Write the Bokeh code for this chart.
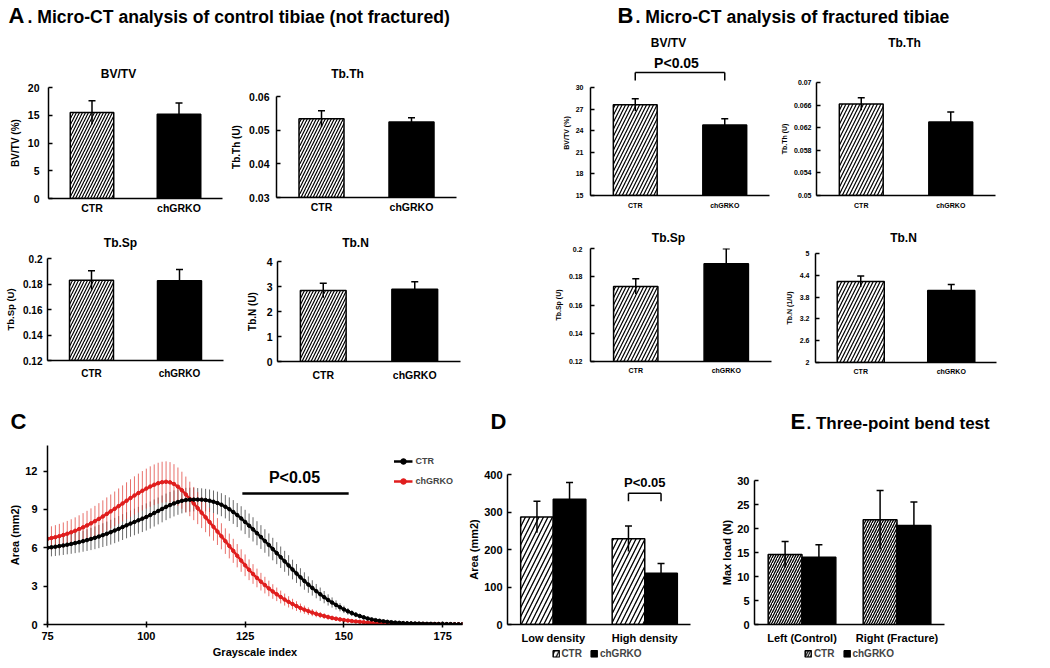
from bokeh.plotting import figure
from bokeh.models import (Range1d, FixedTicker, Label, Whisker, TeeHead,
                          ColumnDataSource, Legend, LegendItem)
from bokeh.layouts import column, row
from bokeh.embed import file_html
from bokeh.resources import INLINE

FONT = "Liberation Sans"

# ---------------- data ----------------
groups = ["CTR", "chGRKO"]

# A. control tibiae (not fractured)
a_bvtv = [15.5, 15.2]
a_bvtv_err = [2.1, 2.0]
a_tbth = [0.0534, 0.0524]
a_tbth_err = [0.0024, 0.0013]
a_tbsp = [0.1830, 0.1826]
a_tbsp_err = [0.0074, 0.0088]
a_tbn = [2.84, 2.89]
a_tbn_err = [0.29, 0.30]

# B. fractured tibiae
b_bvtv = [27.6, 24.8]
b_bvtv_err = [0.85, 0.85]
b_tbth = [0.0662, 0.0630]
b_tbth_err = [0.0011, 0.0018]
b_tbsp = [0.1731, 0.1892]
b_tbsp_err = [0.0054, 0.0106]
b_tbn = [4.23, 3.98]
b_tbn_err = [0.15, 0.17]

# tick values
a_bvtv_ticks = [0, 5, 10, 15, 20]
a_tbth_ticks = [0.03, 0.04, 0.05, 0.06]
a_tbsp_ticks = [0.12, 0.14, 0.16, 0.18, 0.2]
a_tbn_ticks = [0, 1, 2, 3, 4]
b_bvtv_ticks = [15, 18, 21, 24, 27, 30]
b_tbth_ticks = [0.05, 0.054, 0.058, 0.062, 0.066, 0.07]
b_tbsp_ticks = [0.12, 0.14, 0.16, 0.18, 0.2]
b_tbn_ticks = [2.0, 2.6, 3.2, 3.8, 4.4, 5.0]
b_bvtv_sig = [30.97, 32.08]

# C. grayscale histogram (index 75..180)
gray_index = list(range(75, 181))
ctr_area = [
    6.00, 6.04, 6.08, 6.13, 6.18, 6.24, 6.30, 6.37, 6.44, 6.52,
    6.60, 6.69, 6.78, 6.88, 6.99, 7.10, 7.22, 7.35, 7.48, 7.62,
    7.76, 7.89, 8.02, 8.15, 8.28, 8.41, 8.56, 8.72, 8.88, 9.04,
    9.20, 9.34, 9.47, 9.58, 9.67, 9.73, 9.76, 9.77, 9.77, 9.76,
    9.73, 9.68, 9.60, 9.50, 9.37, 9.21, 9.02, 8.80, 8.56, 8.30,
    8.02, 7.73, 7.44, 7.14, 6.84, 6.53, 6.22, 5.90, 5.58, 5.26,
    4.94, 4.62, 4.30, 3.99, 3.69, 3.40, 3.12, 2.86, 2.61, 2.37,
    2.14, 1.92, 1.72, 1.53, 1.35, 1.18, 1.03, 0.89, 0.77, 0.66,
    0.56, 0.47, 0.40, 0.34, 0.29, 0.25, 0.21, 0.18, 0.15, 0.13,
    0.11, 0.10, 0.09, 0.08, 0.07, 0.06, 0.05, 0.05, 0.04, 0.04,
    0.03, 0.03, 0.03, 0.02, 0.02, 0.02,
]
ctr_area_err = [
    0.70, 0.71, 0.72, 0.73, 0.74, 0.75, 0.77, 0.79, 0.81, 0.83,
    0.85, 0.87, 0.89, 0.91, 0.93, 0.95, 0.97, 0.99, 1.00, 1.01,
    1.02, 1.03, 1.04, 1.05, 1.05, 1.06, 1.06, 1.06, 1.05, 1.05,
    1.04, 1.03, 1.02, 1.00, 0.98, 0.96, 0.94, 0.92, 0.90, 0.89,
    0.88, 0.88, 0.88, 0.89, 0.90, 0.91, 0.92, 0.93, 0.94, 0.95,
    0.95, 0.95, 0.95, 0.94, 0.93, 0.92, 0.90, 0.88, 0.86, 0.84,
    0.82, 0.80, 0.77, 0.74, 0.71, 0.68, 0.64, 0.60, 0.56, 0.52,
    0.48, 0.44, 0.40, 0.36, 0.32, 0.29, 0.26, 0.23, 0.20, 0.18,
    0.16, 0.14, 0.12, 0.11, 0.10, 0.09, 0.08, 0.07, 0.07, 0.06,
    0.06, 0.06, 0.05, 0.05, 0.05, 0.05, 0.05, 0.04, 0.04, 0.04,
    0.04, 0.04, 0.04, 0.04, 0.04, 0.04,
]
ko_area = [
    6.70, 6.76, 6.83, 6.91, 7.00, 7.10, 7.21, 7.33, 7.46, 7.60,
    7.75, 7.91, 8.08, 8.26, 8.45, 8.65, 8.85, 9.05, 9.26, 9.47,
    9.68, 9.89, 10.09, 10.28, 10.46, 10.63, 10.79, 10.93, 11.05, 11.13,
    11.16, 11.12, 10.99, 10.78, 10.50, 10.17, 9.82, 9.46, 9.10, 8.74,
    8.38, 8.01, 7.64, 7.27, 6.90, 6.52, 6.14, 5.76, 5.38, 5.00,
    4.63, 4.28, 3.95, 3.64, 3.35, 3.08, 2.82, 2.58, 2.36, 2.15,
    1.95, 1.77, 1.60, 1.44, 1.29, 1.16, 1.04, 0.93, 0.83, 0.74,
    0.66, 0.58, 0.51, 0.45, 0.40, 0.35, 0.31, 0.27, 0.24, 0.21,
    0.18, 0.16, 0.14, 0.12, 0.11, 0.10, 0.09, 0.08, 0.07, 0.06,
    0.06, 0.05, 0.05, 0.04, 0.04, 0.04, 0.03, 0.03, 0.03, 0.03,
    0.02, 0.02, 0.02, 0.02, 0.02, 0.02,
]
ko_area_err = [
    0.90, 0.92, 0.94, 0.96, 0.98, 1.00, 1.02, 1.05, 1.08, 1.11,
    1.14, 1.17, 1.20, 1.23, 1.26, 1.29, 1.32, 1.35, 1.38, 1.41,
    1.44, 1.47, 1.50, 1.52, 1.54, 1.56, 1.58, 1.59, 1.60, 1.60,
    1.60, 1.58, 1.55, 1.50, 1.45, 1.40, 1.35, 1.30, 1.25, 1.20,
    1.16, 1.12, 1.08, 1.05, 1.02, 1.00, 0.97, 0.94, 0.91, 0.88,
    0.85, 0.81, 0.77, 0.73, 0.69, 0.65, 0.61, 0.57, 0.53, 0.50,
    0.47, 0.44, 0.41, 0.38, 0.35, 0.32, 0.30, 0.28, 0.26, 0.24,
    0.22, 0.20, 0.18, 0.16, 0.15, 0.14, 0.13, 0.12, 0.11, 0.10,
    0.09, 0.08, 0.08, 0.07, 0.07, 0.06, 0.06, 0.05, 0.05, 0.05,
    0.05, 0.05, 0.04, 0.04, 0.04, 0.04, 0.04, 0.04, 0.03, 0.03,
    0.03, 0.03, 0.03, 0.03, 0.03, 0.03,
]
c_xticks = [75, 100, 125, 150, 175]
c_yticks = [0, 3, 6, 9, 12]
c_sig_range = [124.3, 151.2]
c_sig_level = 10.24

# D. low / high density area
density_cats = ["Low density", "High density"]
d_ctr = [287, 229]
d_ctr_err = [42, 34]
d_ko = [334, 137]
d_ko_err = [45, 26]
d_yticks = [0, 100, 200, 300, 400]
d_sig = [329, 350]

# E. three-point bend test
load_cats = ["Left (Control)", "Right (Fracture)"]
e_ctr = [14.6, 21.8]
e_ctr_err = [2.7, 6.1]
e_ko = [14.0, 20.6]
e_ko_err = [2.6, 4.9]
e_yticks = [0, 5, 10, 15, 20, 25, 30]


# ---------------- helpers ----------------
def no_align(p):
    try:
        p.frame_align = False
    except Exception:
        pass


def make_fig(frame_w, frame_h, borders, x_range, y_range, axes=True):
    l, r, t, b = borders
    kw = {} if axes else dict(x_axis_type=None, y_axis_type=None)
    p = figure(frame_width=frame_w, frame_height=frame_h,
               x_range=x_range, y_range=y_range, title=None,
               tools="", toolbar_location=None, output_backend="svg",
               min_border_left=l, min_border_right=r,
               min_border_top=t, min_border_bottom=b, **kw)
    no_align(p)
    p.grid.visible = False
    p.outline_line_color = None
    p.background_fill_color = "white"
    p.border_fill_color = "white"
    return p


def style_axis(ax, tick_px, lab_px, label, standoff, label_standoff,
               tick_in=0, tick_out=0):
    ax.axis_label = label
    ax.axis_line_color = "black"
    ax.axis_line_width = 1.5
    ax.major_tick_line_color = "black"
    ax.major_tick_line_width = 1.5
    ax.major_tick_in = tick_in
    ax.major_tick_out = tick_out
    ax.minor_tick_line_color = None
    ax.major_label_text_font = FONT
    ax.major_label_text_font_style = "bold"
    ax.major_label_text_font_size = tick_px
    ax.major_label_text_color = "black"
    ax.major_label_standoff = standoff
    ax.axis_label_text_font = FONT
    ax.axis_label_text_font_style = "bold"
    ax.axis_label_text_font_size = lab_px
    ax.axis_label_text_color = "black"
    ax.axis_label_standoff = label_standoff


def add_text(p, x, y, text, size, align="center"):
    p.add_layout(Label(x=x, y=y, text=text, text_font=FONT,
                       text_font_size=size, text_font_style="bold",
                       text_align=align, text_baseline="middle",
                       text_color="black"))


def add_whisker(p, xs, vals, errs):
    src = ColumnDataSource(dict(
        x=xs,
        lower=[v - e for v, e in zip(vals, errs)],
        upper=[v + e for v, e in zip(vals, errs)],
    ))
    p.add_layout(Whisker(source=src, base="x", upper="upper", lower="lower",
                         line_color="black", line_width=1.5, level="annotation",
                         upper_head=TeeHead(size=7, line_width=1.5,
                                            line_color="black"),
                         lower_head=None))


def bar_panel(frame, borders, yr, yticks, vals, errs, ylabel,
              tick_px, lab_px, hatch_scale, ystand, ylabstand,
              xstand, y_over=None, y_bounds=None, bar_w=0.5):
    p = make_fig(frame[0], frame[1], borders, Range1d(0, 2), Range1d(*yr))
    xs = [0.5, 1.5]
    src = ColumnDataSource(dict(x=xs, top=vals, fill=["white", "black"],
                                hatch=["/", " "]))
    p.vbar(x="x", top="top", bottom=yr[0], width=bar_w, source=src,
           fill_color="fill", line_color="black", line_width=1.5,
           hatch_pattern="hatch", hatch_color="black",
           hatch_scale=hatch_scale, hatch_weight=1.2)
    add_whisker(p, xs, vals, errs)
    ya = p.yaxis[0]
    style_axis(ya, tick_px, lab_px, ylabel, ystand, ylabstand, tick_in=4)
    ya.ticker = FixedTicker(ticks=yticks)
    if y_over:
        ya.major_label_overrides = y_over
    if y_bounds:
        ya.bounds = y_bounds
    xa = p.xaxis[0]
    style_axis(xa, tick_px, lab_px, None, xstand, 0)
    xa.ticker = FixedTicker(ticks=xs)
    xa.major_label_overrides = {0.5: groups[0], 1.5: groups[1]}
    return p


def strip(w, h, items):
    """Text-only band; its ranges equal its pixel size."""
    p = figure(width=w, height=h, x_range=Range1d(0, w),
               y_range=Range1d(0, h), x_axis_type=None, y_axis_type=None,
               title=None, tools="", toolbar_location=None,
               output_backend="svg", min_border=0)
    no_align(p)
    p.outline_line_color = None
    p.background_fill_color = "white"
    p.border_fill_color = "white"
    for x, y, text, size, align in items:
        add_text(p, x, y, text, size, align=align)
    return p


# ---------------- section headers ----------------
h1 = strip(1042, 34, [
    (8, 19, "A", "22px", "left"),
    (27, 17.5, ". Micro-CT analysis of control tibiae (not fractured)", "17.6px", "left"),
    (617, 19, "B", "22px", "left"),
    (635, 17.5, ". Micro-CT analysis of fractured tibiae", "17.6px", "left"),
])
h2 = strip(1042, 28, [
    (10, 12, "C", "22px", "left"),
    (490, 12, "D", "22px", "left"),
    (790, 12, "E", "22px", "left"),
    (806, 10.5, ". Three-point bend test", "17px", "left"),
])

# ---------------- panel A ----------------
tA1 = strip(520, 46, [(118, 7, "BV/TV", "12px", "center"),
                      (347, 7, "Tb.Th", "12px", "center")])
A1 = bar_panel((174, 111), (48, 6, 7, 24), (0, 20), a_bvtv_ticks, a_bvtv,
               a_bvtv_err, "BV/TV (%)", "10.5px", "10px", 6, 9, 4, 3)
A2 = bar_panel((180, 101), (47, 65, 16, 25), (0.03, 0.06), a_tbth_ticks,
               a_tbth, a_tbth_err, "Tb.Th (U)", "10.5px", "10px", 6, 7, 4, 3)
tA2 = strip(520, 30, [(120, 10, "Tb.Sp", "12px", "center"),
                      (355, 10, "Tb.N", "12px", "center")])
A3 = bar_panel((176, 102), (47, 5, 6, 45), (0.12, 0.2), a_tbsp_ticks, a_tbsp,
               a_tbsp_err, "Tb.Sp (U)", "10px", "9.5px", 6, 5, 4, 7,
               y_over={0.2: "0.2"})
A4 = bar_panel((183, 100), (49, 60, 9, 44), (0, 4), a_tbn_ticks, a_tbn,
               a_tbn_err, "Tb.N (U)", "10.5px", "10px", 6, 5, 6, 7)

# ---------------- panel B ----------------
tB1 = strip(522, 36, [(147, 28, "BV/TV", "12px", "center"),
                      (155, 8, "P<0.05", "14px", "center"),
                      (383, 28, "Tb.Th", "12px", "center")])
B1 = bar_panel((179, 125), (69, 7, 0, 27), (15, 32.36), b_bvtv_ticks, b_bvtv,
               b_bvtv_err, "BV/TV (%)", "7px", "7px", 7, 7, 3, 6,
               y_bounds=(15, 30), bar_w=0.49)
B1.segment(x0=[0.5, 0.5, 1.5], y0=[b_bvtv_sig[0], b_bvtv_sig[1], b_bvtv_sig[1]],
           x1=[0.5, 1.5, 1.5], y1=[b_bvtv_sig[1], b_bvtv_sig[1], b_bvtv_sig[0]],
           line_color="black", line_width=1.5)
B2 = bar_panel((179, 113), (40, 48, 12, 27), (0.05, 0.07), b_tbth_ticks,
               b_tbth, b_tbth_err, "Tb.Th (U)", "7px", "7px", 7, 5, 3, 6,
               bar_w=0.49)
tB2 = strip(522, 24, [(147, 9, "Tb.Sp", "12px", "center"),
                      (382, 9, "Tb.N", "12px", "center")])
B3 = bar_panel((181, 113), (69, 5, 2, 44), (0.12, 0.2), b_tbsp_ticks, b_tbsp,
               b_tbsp_err, "Tb.Sp (U)", "7px", "7px", 7, 8, 4, 5, bar_w=0.49)
B4 = bar_panel((181, 109), (39, 47, 7, 43), (2, 5), b_tbn_ticks, b_tbn,
               b_tbn_err, "Tb.N (1/U)", "7px", "7px", 7, 6, 4, 5, bar_w=0.52)

# ---------------- panel C ----------------
C = make_fig(415, 179, (47, 3, 12, 36), Range1d(75, 180), Range1d(0, 14))
src_ctr = ColumnDataSource(dict(
    x=gray_index, y=ctr_area,
    lo=[m - e for m, e in zip(ctr_area, ctr_area_err)],
    hi=[m + e for m, e in zip(ctr_area, ctr_area_err)]))
src_ko = ColumnDataSource(dict(
    x=gray_index, y=ko_area,
    lo=[m - e for m, e in zip(ko_area, ko_area_err)],
    hi=[m + e for m, e in zip(ko_area, ko_area_err)]))
C.segment(x0="x", y0="lo", x1="x", y1="hi", source=src_ctr,
          line_color="#3a3a3a", line_alpha=0.75, line_width=1)
C.segment(x0="x", y0="lo", x1="x", y1="hi", source=src_ko,
          line_color="#e0403a", line_alpha=0.75, line_width=1)
lr = C.line("x", "y", source=src_ko, line_color="#e01e1e", line_width=2.5)
sr = C.scatter("x", "y", source=src_ko, size=3.5, color="#e01e1e")
lb = C.line("x", "y", source=src_ctr, line_color="black", line_width=2.5)
sb = C.scatter("x", "y", source=src_ctr, size=3.5, color="black")
C.segment(x0=[c_sig_range[0]], y0=[c_sig_level], x1=[c_sig_range[1]],
          y1=[c_sig_level], line_color="black", line_width=2.5)
add_text(C, 137.5, 11.49, "P<0.05", "16px")
cy = C.yaxis[0]
style_axis(cy, "11px", "11px", "Area (mm2)", 6, 1, tick_out=4)
cy.ticker = FixedTicker(ticks=c_yticks)
cx = C.xaxis[0]
style_axis(cx, "11px", "11px", "Grayscale index", 4, 3, tick_in=3, tick_out=3)
cx.ticker = FixedTicker(ticks=c_xticks)
c_leg = Legend(items=[LegendItem(label="CTR", renderers=[lb, sb]),
                      LegendItem(label="chGRKO", renderers=[lr, sr])],
               location="top_right", glyph_width=19, glyph_height=14,
               label_height=14, label_standoff=3, spacing=6, padding=11,
               margin=9, border_line_color=None, background_fill_alpha=0,
               label_text_font=FONT, label_text_font_style="bold",
               label_text_font_size="9px")
C.add_layout(c_leg)


# ---------------- panels D and E ----------------
def grouped_panel(frame, borders, yr, yticks, cats, ctr, ctr_err, ko, ko_err,
                  ylabel, hatch_scale):
    p = make_fig(frame[0], frame[1], borders, Range1d(0, 2), Range1d(*yr))
    centers = [0.5, 1.5]
    off, bw = 0.178, 0.356
    x_ctr = [c - off for c in centers]
    x_ko = [c + off for c in centers]
    bar_ctr = dict(fill_color="white", line_color="black", line_width=1.5,
                   hatch_pattern="/", hatch_color="black",
                   hatch_scale=hatch_scale, hatch_weight=1.3)
    bar_ko = dict(fill_color="black", line_color="black", line_width=1.5)
    p.vbar(x=x_ctr, top=ctr, bottom=yr[0], width=bw, **bar_ctr)
    p.vbar(x=x_ko, top=ko, bottom=yr[0], width=bw, **bar_ko)
    add_whisker(p, x_ctr, ctr, ctr_err)
    add_whisker(p, x_ko, ko, ko_err)
    ya = p.yaxis[0]
    style_axis(ya, "11px", "11px", ylabel, 5, 1, tick_in=4)
    ya.ticker = FixedTicker(ticks=yticks)
    xa = p.xaxis[0]
    style_axis(xa, "11px", "11px", None, 7, 0)
    xa.ticker = FixedTicker(ticks=centers)
    xa.major_label_overrides = {0.5: cats[0], 1.5: cats[1]}

    # legend band under the category labels (same bar styles, hidden glyphs)
    lg = make_fig(frame[0], 14, (borders[0], borders[1], 0, 0),
                  Range1d(0, 2), Range1d(*yr), axes=False)
    r_ctr = lg.vbar(x=x_ctr, top=ctr, bottom=yr[0], width=bw, **bar_ctr)
    r_ko = lg.vbar(x=x_ko, top=ko, bottom=yr[0], width=bw, **bar_ko)
    r_ctr.visible = False
    r_ko.visible = False
    leg = Legend(items=[LegendItem(label=groups[0], renderers=[r_ctr]),
                        LegendItem(label=groups[1], renderers=[r_ko])],
                 orientation="horizontal", location="center",
                 glyph_width=8, glyph_height=8, label_height=10,
                 label_standoff=2, spacing=8, padding=0, margin=0,
                 border_line_color=None, background_fill_alpha=0,
                 label_text_font=FONT, label_text_font_style="bold",
                 label_text_font_size="10px")
    lg.add_layout(leg)
    return p, lg, x_ctr, x_ko


D, D_leg, d_xc, d_xk = grouped_panel((183, 150), (40, 27, 41, 22), (0, 400),
                                     d_yticks, density_cats, d_ctr, d_ctr_err,
                                     d_ko, d_ko_err, "Area (mm2)", 9)
D.segment(x0=[d_xc[1], d_xc[1], d_xk[1]], y0=[d_sig[0], d_sig[1], d_sig[1]],
          x1=[d_xc[1], d_xk[1], d_xk[1]], y1=[d_sig[1], d_sig[1], d_sig[0]],
          line_color="black", line_width=1.5)
add_text(D, 1.5, 379, "P<0.05", "13px")

E, E_leg, _, _ = grouped_panel((190, 144), (37, 100, 47, 22), (0, 30),
                               e_yticks, load_cats, e_ctr, e_ctr_err, e_ko,
                               e_ko_err, "Max load (N)", 5)

col_a = column(tA1, row(A1, A2), tA2, row(A3, A4))
col_b = column(tB1, row(B1, B2), tB2, row(B3, B4))

layout = column(
    h1,
    row(col_a, col_b),
    h2,
    row(C, column(D, D_leg), column(E, E_leg)),
)

open("out.html", "w").write(file_html(layout, INLINE))
